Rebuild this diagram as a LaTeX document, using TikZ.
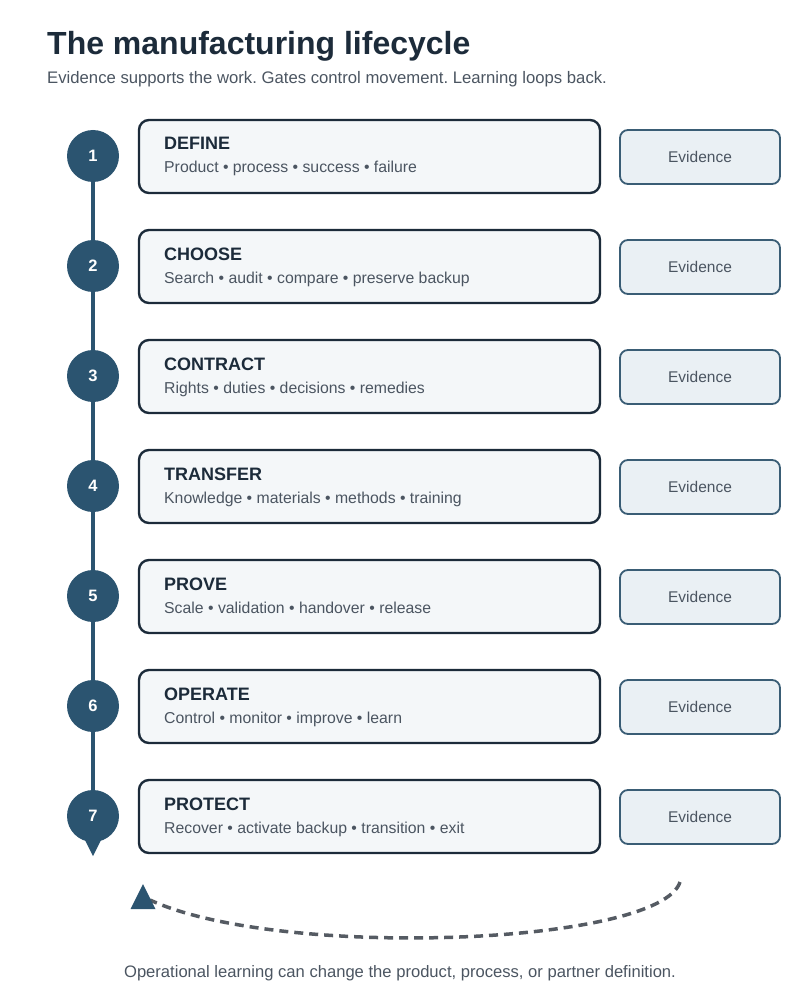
\documentclass[tikz,border=0pt]{standalone}
\usepackage{fontspec}
\setmainfont{Liberation Sans}
\usetikzlibrary{positioning}
\frenchspacing

\definecolor{navy}{HTML}{2B5470}
\definecolor{ink}{HTML}{1C2B3A}
\definecolor{boxfill}{HTML}{F4F7F9}
\definecolor{evidfill}{HTML}{EAF0F4}
\definecolor{evidline}{HTML}{3A5D75}
\definecolor{softgray}{HTML}{4B5561}
\definecolor{loopgray}{HTML}{555B63}

\begin{document}
\begin{tikzpicture}[
    x=1pt, y=-1pt,
    num/.style={circle, fill=navy, minimum size=52pt, inner sep=0pt, text=white, font=\fontsize{16.5}{19}\selectfont\bfseries},
    stage/.style={rectangle, rounded corners=10pt, draw=ink, line width=2.4pt, fill=boxfill, minimum width=461pt, minimum height=73pt},
    stagetitle/.style={anchor=base west, inner sep=0pt, text=ink, font=\fontsize{18}{21}\selectfont\bfseries},
    stagetext/.style={anchor=base west, inner sep=0pt, text=softgray, font=\fontsize{15.8}{18}\selectfont},
    evid/.style={rectangle, rounded corners=8pt, draw=evidline, line width=1.8pt, fill=evidfill, minimum width=160pt, minimum height=54pt, text=softgray, font=\fontsize{15.5}{18}\selectfont},
    spine/.style={navy, line width=4pt}
]
    \useasboundingbox (0,0) rectangle (800,1000);

    % Heading
    \node[anchor=base west, inner sep=0pt, text=ink, font=\fontsize{32}{38}\selectfont\bfseries] (title) at (47,55) {The manufacturing lifecycle};
    \node[anchor=base west, inner sep=0pt, text=softgray, font=\fontsize{16.7}{19}\selectfont] (subtitle) at (47,84) {Evidence supports the work. Gates control movement. Learning loops back.};

    % Stage boxes
    \node[stage] (stage1) at (369.5,156.5) {};
    \node[stage] (stage2) at (369.5,266.5) {};
    \node[stage] (stage3) at (369.5,376.5) {};
    \node[stage] (stage4) at (369.5,486.5) {};
    \node[stage] (stage5) at (369.5,596.5) {};
    \node[stage] (stage6) at (369.5,706.5) {};
    \node[stage] (stage7) at (369.5,816.5) {};

    % Stage texts
    \node[stagetitle] (head1) at (164,150) {DEFINE};
    \node[stagetext] (text1) at (164,173) {Product • process • success • failure};
    \node[stagetitle] (head2) at (164,260) {CHOOSE};
    \node[stagetext] (text2) at (164,283) {Search • audit • compare • preserve backup};
    \node[stagetitle] (head3) at (164,370) {CONTRACT};
    \node[stagetext] (text3) at (164,393) {Rights • duties • decisions • remedies};
    \node[stagetitle] (head4) at (164,480) {TRANSFER};
    \node[stagetext] (text4) at (164,503) {Knowledge • materials • methods • training};
    \node[stagetitle] (head5) at (164,590) {PROVE};
    \node[stagetext] (text5) at (164,613) {Scale • validation • handover • release};
    \node[stagetitle] (head6) at (164,700) {OPERATE};
    \node[stagetext] (text6) at (164,723) {Control • monitor • improve • learn};
    \node[stagetitle] (head7) at (164,810) {PROTECT};
    \node[stagetext] (text7) at (164,833) {Recover • activate backup • transition • exit};

    % Evidence boxes
    \node[evid] (evid1) at (700,157) {Evidence};
    \node[evid] (evid2) at (700,267) {Evidence};
    \node[evid] (evid3) at (700,377) {Evidence};
    \node[evid] (evid4) at (700,487) {Evidence};
    \node[evid] (evid5) at (700,597) {Evidence};
    \node[evid] (evid6) at (700,707) {Evidence};
    \node[evid] (evid7) at (700,817) {Evidence};

    % Numbered gates
    \node[num] (num1) at (93,156) {1};
    \node[num] (num2) at (93,266) {2};
    \node[num] (num3) at (93,376) {3};
    \node[num] (num4) at (93,486) {4};
    \node[num] (num5) at (93,596) {5};
    \node[num] (num6) at (93,706) {6};
    \node[num] (num7) at (93,816) {7};

    % Spine between gates
    \draw[spine] (num1) -- (num2);
    \draw[spine] (num2) -- (num3);
    \draw[spine] (num3) -- (num4);
    \draw[spine] (num4) -- (num5);
    \draw[spine] (num5) -- (num6);
    \draw[spine] (num6) -- (num7);

    % Pointer under last gate
    \fill[navy] ([xshift=-9pt,yshift=4pt]num7.south) -- ([yshift=-14pt]num7.south) -- ([xshift=9pt,yshift=4pt]num7.south) -- cycle;

    % Learning loop
    \coordinate (loopstart) at (680,882);
    \coordinate (loopend) at (143,884);
    \draw[loopgray, line width=3.5pt, dash pattern=on 9pt off 6pt] (loopstart) .. controls (660,945) and (280,960) .. ([xshift=7pt,yshift=-16pt]loopend);
    \fill[navy] (loopend) -- ++(-12.5,25) -- ++(25,0) -- cycle;

    \node[text=softgray, font=\fontsize{16.6}{19}\selectfont] (footnote) at (400,973) {Operational learning can change the product, process, or partner definition.};

\end{tikzpicture}
\end{document}
